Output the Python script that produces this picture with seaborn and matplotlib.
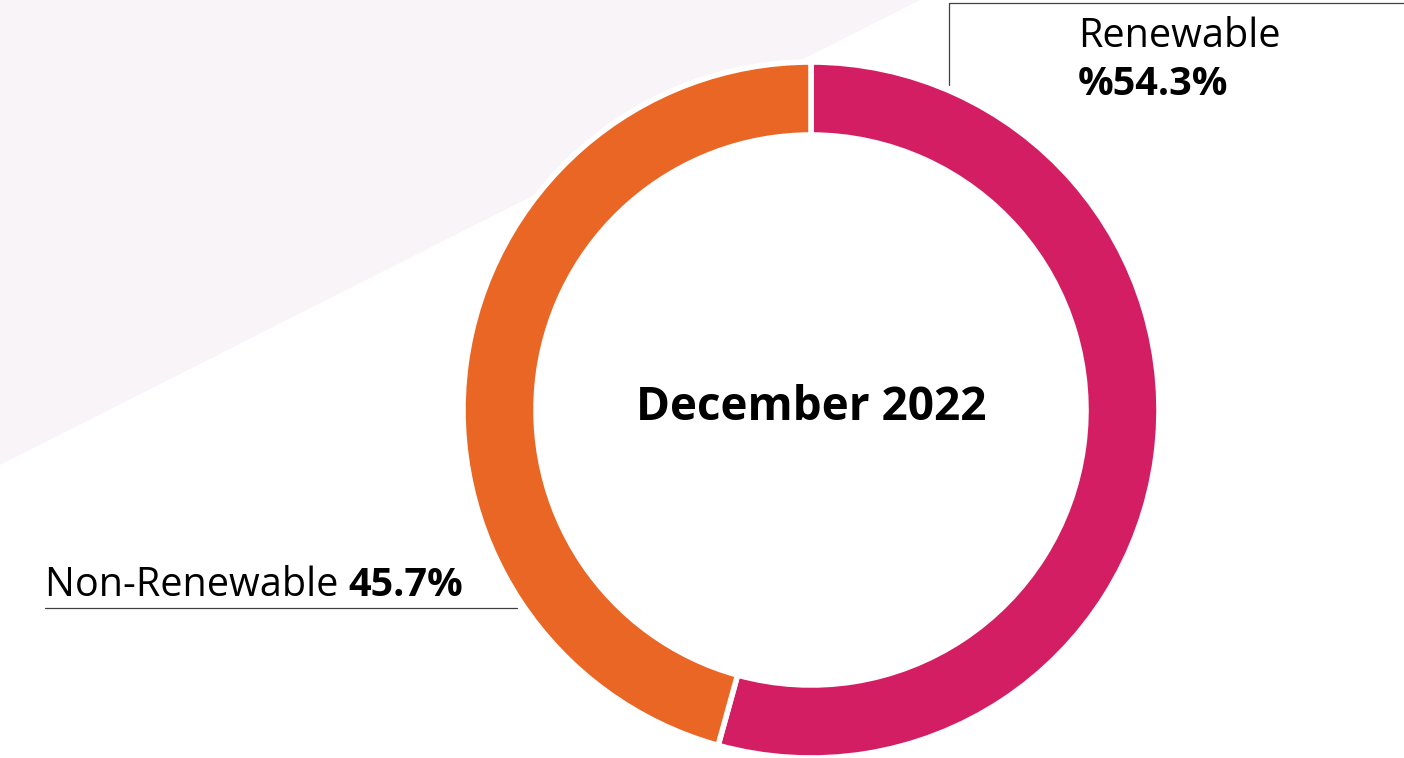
import matplotlib
matplotlib.use("Agg")
import matplotlib.pyplot as plt
from matplotlib.patches import Polygon
import seaborn as sns

# data
labels = ["Renewable", "Non-Renewable"]
shares = [54.3, 45.7]
share_text = ["%54.3%", "45.7%"]
title = "December 2022"
colors = ["#d31e63", "#e96625"]

sns.set_theme(style="white")
plt.rcParams["font.family"] = ["Open Sans", "DejaVu Sans"]

W, H = 1404, 758
fig = plt.figure(figsize=(W / 100, H / 100), dpi=100)
ax = fig.add_axes([0, 0, 1, 1])

# pale background shape in the upper left
ax.add_patch(Polygon([(0, H), (920, H), (0, H - 465)], closed=True,
                     facecolor="#f9f4f7", edgecolor="none", zorder=0))

# donut
cx, cy, r = 811, H - 410, 348
ax.pie(shares, colors=colors, startangle=90, counterclock=False,
       center=(cx, cy), radius=r, frame=True,
       wedgeprops=dict(width=73, edgecolor="white", linewidth=4))
ax.set_xlim(0, W)
ax.set_ylim(0, H)
ax.set_aspect("equal")
ax.axis("off")

ax.text(cx, cy + 2, title, ha="center", va="center", fontsize=33, fontweight="bold",
        color="black")

# leader lines
ax.plot([949, 949, W], [H - 85, H - 3, H - 3], color="#404040", lw=0.9)
ax.plot([45, 517], [H - 608, H - 608], color="#404040", lw=0.9)

# labels
fs = 28.5
ax.text(1078, H - 47, labels[0], ha="left", va="baseline", fontsize=fs, color="black")
ax.text(1078, H - 95, share_text[0], ha="left", va="baseline", fontsize=fs,
        fontweight="bold", color="black")

t = ax.text(45, H - 596, labels[1] + " ", ha="left", va="baseline", fontsize=fs,
            color="black")
fig.canvas.draw()
bb = t.get_window_extent(renderer=fig.canvas.get_renderer())
x_end = ax.transData.inverted().transform((bb.x1, bb.y0))[0]
ax.text(x_end, H - 596, share_text[1], ha="left", va="baseline", fontsize=fs,
        fontweight="bold", color="black")

fig.savefig("out.png", dpi=100)
